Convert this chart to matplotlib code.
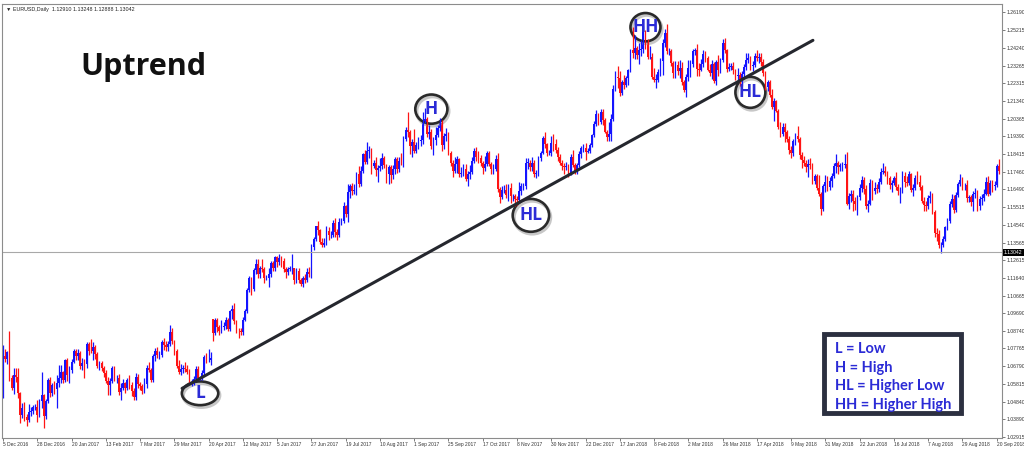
import matplotlib
matplotlib.use("Agg")
import matplotlib.pyplot as plt
from matplotlib.patches import Ellipse, Rectangle
import numpy as np

# EURUSD daily, 5 Dec 2016 .. 21 Sep 2018, one row per week (prices in pips, 1.0733 -> 10733)
first_open = 10660
closes = [
    10733, 10720, 10755, 10615, 10560,
    10630, 10620, 10530, 10410, 10450,
    10400, 10385, 10430, 10435, 10455,
    10455, 10410, 10490, 10520,
    10405, 10490, 10605, 10530,
    10575, 10555, 10585, 10615, 10645,
    10605, 10715, 10630, 10660, 10700,
    10760, 10735, 10750, 10680, 10695,
    10690, 10800, 10765, 10760, 10785,
    10745, 10680, 10695, 10670, 10640,
    10600, 10575, 10600, 10670, 10615,
    10615, 10540, 10560, 10585, 10560,
    10605, 10575, 10545, 10510, 10620,
    10580, 10570, 10545, 10580, 10670,
    10660, 10605, 10735, 10765, 10740,
    10740, 10810, 10795, 10785, 10800,
    10865, 10815, 10765, 10680, 10650,
    10665, 10670, 10665, 10650, 10590,
    10595, 10610, 10665, 10615, 10615,
    10640, 10730, 10715, 10715, 10725,
    10860, 10930, 10895, 10875, 10895,
    10900, 10930, 10885, 10980, 10995,
    10925, 10875, 10870, 10865, 10935,
    10980, 11095, 11160, 11100, 11205,
    11240, 11185, 11215, 11210, 11165,
    11165, 11185, 11245, 11215, 11280,
    11250, 11275, 11255, 11210, 11195,
    11210, 11215, 11215, 11150, 11200,
    11150, 11130, 11165, 11150, 11195,
    11185, 11335, 11375, 11445, 11425,
    11360, 11345, 11355, 11420, 11400,
    11400, 11465, 11415, 11400, 11470,
    11475, 11555, 11515, 11635, 11665,
    11640, 11645, 11730, 11675, 11750,
    11840, 11800, 11860, 11865, 11775,
    11795, 11755, 11765, 11775, 11820,
    11780, 11730, 11770, 11725, 11760,
    11815, 11760, 11805, 11800, 11925,
    11975, 11965, 11885, 11910, 11860,
    11890, 11915, 11920, 12025, 12035,
    11950, 11965, 11885, 11920, 11945,
    11985, 12010, 11890, 11940, 11950,
    11845, 11795, 11750, 11785, 11815,
    11735, 11740, 11760, 11705, 11730,
    11745, 11805, 11860, 11825, 11820,
    11795, 11765, 11790, 11845, 11785,
    11760, 11760, 11815, 11650, 11605,
    11645, 11645, 11620, 11655, 11610,
    11610, 11595, 11590, 11640, 11665,
    11665, 11795, 11795, 11770, 11795,
    11735, 11740, 11820, 11850, 11930,
    11895, 11845, 11845, 11905, 11895,
    11865, 11825, 11795, 11775, 11770,
    11775, 11740, 11825, 11780, 11750,
    11780, 11840, 11875, 11875, 11855,
    11860, 11890, 11945, 12005,
    12060, 12015, 12070, 12030,
    11965, 11935, 11950, 12035, 12200,
    12265, 12260, 12175, 12235, 12220,
    12260, 12300, 12410, 12395, 12425,
    12385, 12410, 12415, 12510, 12460,
    12375, 12375, 12265, 12250, 12250,
    12290, 12350, 12450, 12505, 12405,
    12405, 12340, 12285, 12330, 12295,
    12315, 12235, 12195, 12265, 12315,
    12335, 12405, 12410, 12310, 12305,
    12335, 12390, 12370, 12305, 12285,
    12335, 12240, 12345, 12300, 12355,
    12450, 12410, 12310, 12320, 12325,
    12300, 12270, 12275, 12240, 12280,
    12320, 12355, 12370, 12325, 12330,
    12380, 12370, 12375, 12345, 12285,
    12210, 12235, 12165, 12100, 12130,
    12080, 11990, 11950, 11990, 11960,
    11925, 11865, 11850, 11915, 11940,
    11925, 11835, 11810, 11795, 11770,
    11790, 11780, 11695, 11720, 11655,
    11625, 11540, 11665, 11690, 11660,
    11695, 11720, 11775, 11795, 11770,
    11780, 11780, 11790, 11570, 11610,
    11625, 11585, 11570, 11605, 11655,
    11700, 11650, 11555, 11570, 11685,
    11640, 11655, 11650, 11690, 11745,
    11750, 11740, 11710, 11670, 11685,
    11710, 11660, 11640, 11640, 11720,
    11690, 11685, 11730, 11645, 11655,
    11710, 11690, 11660, 11585, 11565,
    11555, 11600, 11610, 11525, 11410,
    11405, 11345, 11345, 11375, 11440,
    11475, 11570, 11595, 11535, 11620,
    11680, 11700, 11670, 11670, 11600,
    11605, 11580, 11625, 11625, 11555,
    11595, 11600, 11625, 11690, 11625,
    11685, 11665, 11670, 11775, 11750,
]
# wick length above / below the body, pips
wick_up = [
    63, 42, 5, 119, 15,
    40, 40, 50, 10, 30,
    35, 15, 45, 20, 10,
    15, 40, 10, 130,
    5, 10, 10, 15,
    10, 25, 45, 70, 40,
    10, 3, 10, 20, 20,
    15, 15, 25, 15, 30,
    25, 10, 10, 64, 25,
    10, 10, 15, 15, 10,
    20, 20, 15, 10, 10,
    15, 20, 25, 25, 10,
    10, 25, 20, 15, 20,
    15, 15, 10, 35, 15,
    30, 10, 10, 15, 20,
    25, 15, 25, 20, 20,
    41, 25, 10, 10, 35,
    25, 15, 30, 20, 15,
    15, 15, 15, 15, 10,
    20, 10, 20, 60, 30,
    0, 15, 15, 10, 35,
    20, 20, 15, 10, 20,
    28, 10, 15, 20, 15,
    15, 15, 15, 10, 10,
    25, 25, 15, 50, 15,
    15, 30, 10, 10, 5,
    5, 21, 10, 15, 15,
    15, 15, 81, 5, 15,
    15, 15, 10, 20, 20,
    30, 15, 15, 5, 30,
    5, 20, 25, 25, 20,
    20, 15, 25, 15, 20,
    15, 25, 10, 45, 15,
    20, 30, 15, 45, 25,
    10, 25, 50, 20, 10,
    15, 30, 15, 45, 25,
    10, 10, 10, 10, 20,
    10, 10, 20, 40, 15,
    15, 95, 10, 15, 70,
    20, 20, 25, 45, 57,
    10, 35, 15, 15, 45,
    15, 30, 20, 15, 35,
    15, 15, 15, 40, 15,
    5, 30, 30, 25, 20,
    35, 20, 15, 20, 35,
    15, 10, 40, 15, 15,
    15, 25, 20, 30, 10,
    20, 25, 30, 25, 30,
    15, 15, 15, 50, 20,
    20, 25, 25, 15, 30,
    15, 15, 10, 10, 10,
    31, 10, 20, 35, 45,
    30, 15, 15, 15, 20,
    25, 10, 15, 40, 15,
    15, 20, 10, 20, 25,
    15, 15, 5, 20,
    21, 5, 20, 20,
    10, 10, 65, 25, 20,
    30, 60, 35, 15, 40,
    10, 10, 10, 127, 70,
    10, 40, 50, 35, 10,
    10, 60, 20, 50, 30,
    20, 20, 20, 20, 50,
    20, 15, 10, 20, 20,
    40, 30, 15, 15, 40,
    20, 10, 15, 36, 30,
    30, 20, 15, 10, 30,
    20, 10, 10, 40, 15,
    20, 26, 10, 20, 15,
    20, 10, 40, 15, 15,
    15, 40, 25, 10, 20,
    15, 34, 20, 20, 15,
    10, 15, 10, 35, 20,
    10, 10, 30, 20, 20,
    15, 15, 20, 10, 15,
    57, 10, 20, 20, 15,
    25, 30, 15, 15, 10,
    70, 10, 10, 35, 30,
    20, 20, 20, 45, 10,
    15, 20, 50, 62, 20,
    20, 20, 20, 15, 20,
    20, 15, 20, 20, 20,
    15, 35, 20, 20, 20,
    41, 25, 10, 10, 15,
    10, 35, 15, 20, 30,
    25, 30, 20, 10, 25,
    15, 40, 35, 10, 20,
    20, 20, 30, 20, 10,
    25, 20, 15, 20, 10,
    15, 15, 30, 25, 15,
    10, 33, 15, 15, 30,
    15, 10, 15, 30, 20,
    15, 25, 25, 25, 30,
    15, 15, 25, 15, 40,
]
wick_dn = [
    155, 20, 30, 15, 10,
    35, 25, 25, 44, 15,
    20, 33, 10, 25, 20,
    15, 35, 10, 40,
    65, 15, 10, 20,
    15, 30, 102, 20, 25,
    20, 10, 30, 42, 20,
    5, 20, 20, 15, 20,
    75, 20, 25, 10, 45,
    25, 10, 20, 15, 20,
    10, 55, 55, 10, 15,
    30, 20, 45, 10, 30,
    10, 20, 30, 15, 15,
    20, 20, 20, 10, 20,
    15, 10, 10, 25, 15,
    20, 10, 25, 25, 25,
    10, 15, 25, 10, 15,
    20, 25, 20, 15, 10,
    21, 20, 10, 10, 10,
    10, 10, 20, 15, 30,
    40, 10, 30, 25, 15,
    15, 15, 10, 10, 40,
    15, 15, 35, 15, 15,
    10, 10, 10, 30, 10,
    20, 20, 25, 15, 30,
    15, 50, 15, 15, 15,
    25, 15, 30, 15, 30,
    15, 10, 30, 20, 15,
    15, 10, 15, 15, 10,
    15, 25, 20, 10, 25,
    10, 10, 15, 10, 30,
    20, 10, 25, 30, 10,
    15, 10, 20, 45, 35,
    25, 15, 25, 15, 10,
    10, 15, 10, 40, 45,
    10, 35, 67, 15, 15,
    15, 45, 50, 40, 20,
    30, 20, 15, 20, 30,
    10, 30, 45, 62, 10,
    10, 20, 30, 25, 15,
    15, 25, 15, 50, 30,
    10, 15, 30, 20, 25,
    10, 20, 33, 10, 45,
    20, 20, 20, 10, 40,
    25, 10, 10, 20, 25,
    20, 30, 15, 15, 10,
    30, 30, 10, 15, 30,
    10, 15, 20, 35, 35,
    25, 40, 25, 10, 20,
    20, 15, 35, 20, 20,
    20, 25, 20, 15, 10,
    20, 15, 10, 15, 35,
    20, 20, 15, 20, 40,
    15, 22, 15, 10, 20,
    15, 10, 20, 20, 45,
    10, 10, 10, 10,
    10, 15, 10, 30,
    10, 20, 20, 35, 10,
    10, 55, 15, 10, 20,
    10, 40, 10, 25, 30,
    20, 50, 30, 20, 45,
    15, 15, 10, 15, 45,
    15, 20, 75, 20, 15,
    20, 15, 25, 25, 20,
    35, 15, 15, 40, 25,
    50, 15, 20, 40, 35,
    10, 15, 25, 10, 15,
    30, 10, 20, 30, 15,
    10, 15, 20, 15, 15,
    20, 25, 25, 25, 25,
    15, 15, 15, 20, 30,
    10, 20, 30, 20, 15,
    15, 25, 10, 10, 75,
    10, 10, 15, 10, 50,
    15, 25, 28, 20, 25,
    15, 20, 45, 20, 25,
    55, 20, 20, 20, 10,
    15, 30, 10, 30, 20,
    15, 35, 10, 35, 40,
    20, 30, 15, 10, 30,
    30, 55, 35, 62, 15,
    20, 25, 15, 30, 10,
    50, 15, 20, 15, 15,
    15, 20, 35, 20, 35,
    15, 15, 20, 65, 10,
    30, 20, 15, 10, 35,
    10, 15, 15, 10, 35,
    25, 15, 25, 10, 20,
    40, 20, 44, 15, 10,
    15, 10, 20, 15, 10,
    15, 15, 25, 25, 20,
    20, 25, 50, 25, 25,
    20, 30, 15, 10, 15,
    10, 30, 20, 10, 15,
]
# weekend gap after the French election (bar index -> open)
gap_opens = {98: 10937}

date_labels = ["5 Dec 2016", "28 Dec 2016", "20 Jan 2017", "13 Feb 2017", "7 Mar 2017",
               "29 Mar 2017", "20 Apr 2017", "12 May 2017", "5 Jun 2017", "27 Jun 2017",
               "19 Jul 2017", "10 Aug 2017", "1 Sep 2017", "25 Sep 2017", "17 Oct 2017",
               "8 Nov 2017", "30 Nov 2017", "22 Dec 2017", "17 Jan 2018", "8 Feb 2018",
               "2 Mar 2018", "26 Mar 2018", "17 Apr 2018", "9 May 2018", "31 May 2018",
               "22 Jun 2018", "16 Jul 2018", "7 Aug 2018", "29 Aug 2018", "20 Sep 2018"]
price_ticks = [1.26190, 1.25215, 1.24240, 1.23265, 1.22315, 1.21340, 1.20365, 1.19390,
               1.18415, 1.17460, 1.16490, 1.15515, 1.14540, 1.13565, 1.12615, 1.11640,
               1.10665, 1.09690, 1.08740, 1.07765, 1.06790, 1.05815, 1.04840, 1.03890,
               1.02915]
bid_price = 1.13042
header = "\u25bc EURUSD,Daily  1.12910 1.13248 1.12888 1.13042"

# swing point markers: (label, bar, price, width in bars, height in price)
swings = [("L", 92, 1.0531, 17, 0.0130),
          ("H", 200, 1.2088, 15, 0.0160),
          ("HL", 246.5, 1.1506, 17, 0.0180),
          ("HH", 300, 1.2537, 14, 0.0155),
          ("HL", 349, 1.2180, 14, 0.0170)]
trend_start = (83.6, 1.0558)
trend_end = (378.2, 1.2465)
legend_lines = ["L = Low", "H = High", "HL = Higher Low", "HH = Higher High"]

c = np.array(closes) / 10000
o = np.concatenate([[first_open], closes[:-1]]).astype(float) / 10000
for k, v in gap_opens.items():
    o[k] = v / 10000
h = np.maximum(o, c) + np.array(wick_up) / 10000
l = np.minimum(o, c) - np.array(wick_dn) / 10000
x = np.arange(len(c))

fig = plt.figure(figsize=(10.24, 4.5), dpi=100)
ax = fig.add_axes([2 / 1024, 12 / 450, 1000 / 1024, 434 / 450])

up = c >= o
col = np.where(up, "#1414ff", "#ff1414")
ax.vlines(x, l, h, colors=col, linewidth=0.9)
body = np.maximum(np.abs(c - o), 0.0001)
ax.bar(x, body, bottom=np.minimum(o, c), width=0.8, color=col, linewidth=0)

ax.axhline(bid_price, color="#a8a8a8", linewidth=0.8)

ax.plot([trend_start[0], trend_end[0]], [trend_start[1], trend_end[1]],
        color="#25272e", linewidth=2.2, solid_capstyle="round")

for lab, bx, py, w, hh in swings:
    # soft shadow, then the ring
    ax.add_patch(Ellipse((bx + 0.6, py - 0.0011), w, hh, facecolor="none",
                         edgecolor="#9a9a9a", linewidth=2.6, alpha=0.55))
    ax.add_patch(Ellipse((bx, py), w, hh, facecolor="none", edgecolor="#2a2a2a",
                         linewidth=1.9))
    ax.text(bx, py, lab, color="#2b2bd6", fontsize=12.5, fontweight="bold",
            ha="center", va="center", family="Open Sans")

ax.set_xlim(-0.5, 466.5)
ax.set_ylim(1.02860, 1.26640)

ax.yaxis.tick_right()
ax.set_yticks(price_ticks)
ax.set_yticklabels([f"{p:.5f}" for p in price_ticks], fontsize=3.7, color="#333333",
                   family="Liberation Sans")
ax.set_xticks(np.arange(len(date_labels)) * 16)
ax.set_xticklabels(date_labels, fontsize=3.5, color="#333333", ha="left",
                   family="Liberation Sans")
ax.tick_params(axis="both", length=2, width=0.6, color="#666666", pad=1)
for s in ax.spines.values():
    s.set_color("#8c8c8c")
    s.set_linewidth(0.8)

ax.text(1.002, bid_price, "1.13042", transform=ax.get_yaxis_transform(), fontsize=3.7,
        family="Liberation Sans", color="white", va="center", ha="left",
        bbox=dict(boxstyle="square,pad=0.2", facecolor="black", edgecolor="none"))

ax.text(0.004, 0.992, header, transform=ax.transAxes, fontsize=3.9, color="#222222",
        family="Liberation Sans", va="top", ha="left")

fig.text(80 / 1024, 1 - 75 / 450, "Uptrend", fontsize=22, fontweight="bold",
         family="Open Sans", color="#111111", va="baseline", ha="left")

fig.add_artist(Rectangle((824 / 1024, 1 - 413 / 450), 137 / 1024, 79 / 450,
                         transform=fig.transFigure, facecolor="white",
                         edgecolor="#2c3040", linewidth=3.5))
for i, t in enumerate(legend_lines):
    fig.text(835 / 1024, 1 - (353 + i * 18.7) / 450, t, fontsize=10.5, fontweight="bold",
             family="Lato", color="#2b2bd6", va="baseline", ha="left")

fig.savefig("out.png", dpi=100, facecolor="white")
